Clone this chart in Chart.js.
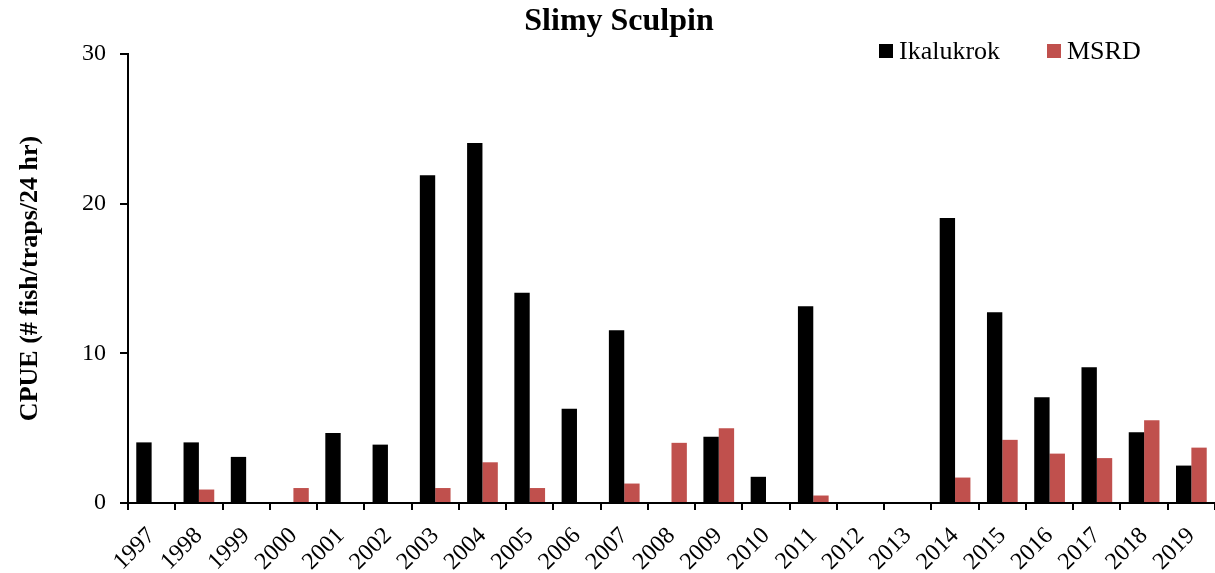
<!DOCTYPE html>
<html>
<head>
<meta charset="utf-8">
<script src="https://cdn.jsdelivr.net/npm/chart.js@4.4.0/dist/chart.umd.min.js"></script>
<style>
  html, body { margin: 0; padding: 0; background: #fff; }
  #wrap { width: 1215px; height: 573px; }
</style>
</head>
<body>
<div id="wrap"><canvas id="sculpinChart"></canvas></div>
<script>
// values
const years = ['1997', '1998', '1999', '2000', '2001', '2002', '2003', '2004', '2005', '2006', '2007', '2008',
               '2009', '2010', '2011', '2012', '2013', '2014', '2015', '2016', '2017', '2018', '2019'];
const ikalukrok = [4.05, 4.05, 3.08, null, 4.68, 3.9, 21.9, 24.05, 14.05, 6.3, 11.54, null,
                   4.42, 1.75, 13.14, null, null, 19.04, 12.74, 7.06, 9.07, 4.73, 2.5];
const msrd = [null, 0.9, null, 1.0, null, null, 1.0, 2.72, 1.0, null, 1.3, 4.02,
              5.0, null, 0.5, null, null, 1.7, 4.22, 3.3, 3.0, 5.53, 3.7];
const seriesNames = ['Ikalukrok', 'MSRD'];
const yTicks = [0, 10, 20, 30];
const chartTitle = 'Slimy Sculpin';
const yTitle = 'CPUE (# fish/traps/24 hr)';

const SERIF = '"Liberation Serif", "Times New Roman", serif';
Chart.defaults.font.family = SERIF;
Chart.defaults.color = '#000';

// title and legend sit over the top of the plot, so draw them by hand
const overlay = {
  id: 'overlay',
  afterDraw(chart) {
    const ctx = chart.ctx;
    ctx.save();
    ctx.fillStyle = '#000';
    ctx.font = 'bold 32px ' + SERIF;
    ctx.textAlign = 'center';
    ctx.textBaseline = 'alphabetic';
    ctx.fillText(chartTitle, 619, 30);

    ctx.font = '26px ' + SERIF;
    ctx.textAlign = 'left';
    const xs = [879, 1047];
    chart.data.datasets.forEach((ds, i) => {
      ctx.fillStyle = ds.backgroundColor;
      ctx.fillRect(xs[i], 44, 14, 14);
      ctx.fillStyle = '#000';
      ctx.fillText(ds.label, xs[i] + 20, 59);
    });
    ctx.restore();
  }
};

const ctx = document.getElementById('sculpinChart').getContext('2d');
const sculpinChart = new Chart(ctx, {
  type: 'bar',
  data: {
    labels: years,
    datasets: [
      { label: seriesNames[0], data: ikalukrok, backgroundColor: '#000000' },
      { label: seriesNames[1], data: msrd, backgroundColor: '#C0504D' }
    ]
  },
  options: {
    responsive: true,
    maintainAspectRatio: false,
    animation: false,
    layout: { padding: { top: 54, right: 0, bottom: 0, left: 0 } },
    datasets: { bar: { categoryPercentage: 0.65, barPercentage: 1.0 } },
    plugins: {
      legend: { display: false },
      title: { display: false },
      tooltip: { enabled: false }
    },
    scales: {
      x: {
        ticks: { font: { size: 24 }, maxRotation: 45, minRotation: 45, autoSkip: false, padding: 12 },
        border: { color: '#000', width: 2 },
        grid: { drawOnChartArea: false, drawTicks: true, tickLength: 7, color: '#000', lineWidth: 2, offset: true },
        afterFit(scale) {
          scale.height = 70;
          scale.paddingLeft = 0;
          scale.paddingRight = 0;
        }
      },
      y: {
        min: 0,
        max: 30,
        afterBuildTicks(scale) { scale.ticks = yTicks.map(v => ({ value: v })); },
        ticks: { font: { size: 24 }, padding: 14 },
        border: { color: '#000', width: 2 },
        grid: { drawOnChartArea: false, drawTicks: true, tickLength: 8, color: '#000', lineWidth: 2 },
        title: {
          display: true,
          text: yTitle,
          font: { size: 26, weight: 'bold' },
          padding: { top: 15, bottom: 0 }
        },
        afterFit(scale) { scale.width = 128; }
      }
    }
  },
  plugins: [overlay]
});
</script>
</body>
</html>
